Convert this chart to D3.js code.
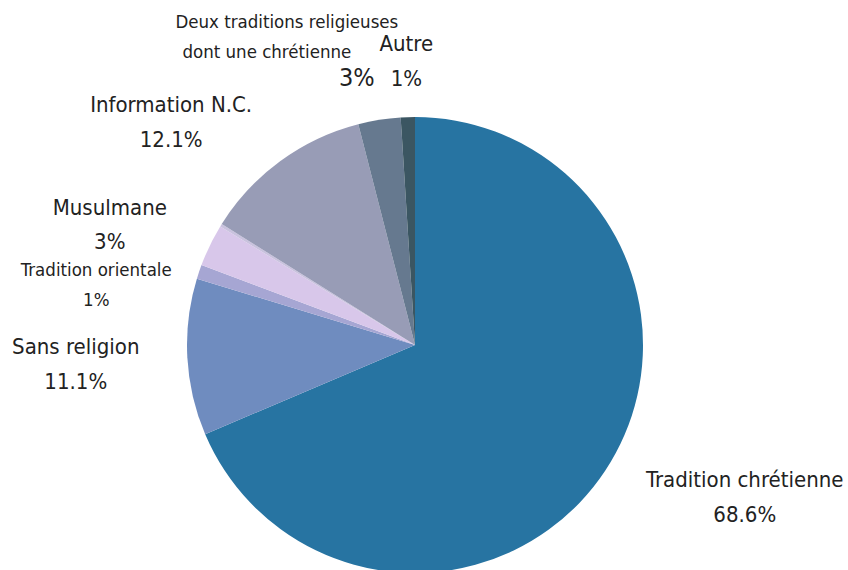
<!DOCTYPE html>
<html>
<head>
<meta charset="utf-8">
<script src="https://cdn.jsdelivr.net/npm/d3@7"></script>
<style>
  body { margin: 0; background: #fff; }
  svg { display: block; }
  text { font-family: "Liberation Sans Narrow", "DejaVu Sans Condensed", sans-serif; fill: #222; }
</style>
</head>
<body>
<svg></svg>
<script>
// Données (en %)
const categories = ["Tradition chrétienne", "Sans religion", "Tradition orientale", "Musulmane", "", "Information N.C.", "Deux traditions religieuses dont une chrétienne", "Autre"];
const values = [68.6, 11.1, 1, 3, 0.2, 12.1, 3, 1];
const valueLabels = ["68.6%", "11.1%", "1%", "3%", "", "12.1%", "3%", "1%"];
const colors = ["#2774a2", "#6f8cbf", "#a6a6d3", "#d8c7ea", "#c9c2de", "#989cb6", "#66798f", "#3b5662"];

const width = 848, height = 570;
const cx = 415, cy = 345, radius = 228;

const svg = d3.select("svg").attr("width", width).attr("height", height);
const g = svg.append("g").attr("transform", "translate(" + cx + "," + cy + ")");

const pie = d3.pie().sort(null).value(d => d);
const arcs = pie(values);
const arc = d3.arc().innerRadius(0).outerRadius(radius);

g.selectAll("path")
  .data(arcs)
  .enter().append("path")
  .attr("d", arc)
  .attr("fill", (d, i) => colors[i]);

// Labels : un peu à l'extérieur du disque, quelques ajustements manuels
const labelR = radius * 1.21;
const nudge = { 1: [0, 4], 2: [18, 28], 6: [0, 0], 7: [0, -8] };
const small = { 2: 18.5, 6: 18.5 };

arcs.forEach((d, i) => {
  if (!categories[i]) return;
  const a = (d.startAngle + d.endAngle) / 2;
  let x = Math.sin(a) * labelR, y = -Math.cos(a) * labelR;
  const [nx, ny] = nudge[i] || [0, 0];
  x += nx; y += ny;
  const fs = small[i] || 22;
  const lg = g.append("g");

  if (i === 6) {
    // libellé long sur deux lignes, valeur en dessous à droite
    lg.append("text").attr("x", x - 85).attr("y", y - 45).attr("text-anchor", "middle")
      .style("font-size", fs + "px").text("Deux traditions religieuses");
    lg.append("text").attr("x", x - 105).attr("y", y - 15).attr("text-anchor", "middle")
      .style("font-size", fs + "px").text("dont une chrétienne");
    lg.append("text").attr("x", x - 15).attr("y", y + 13).attr("text-anchor", "middle")
      .style("font-size", "25px").text(valueLabels[i]);
    return;
  }

  const t = lg.append("text").attr("text-anchor", "middle").style("font-size", fs + "px");
  t.append("tspan").attr("x", 0).attr("dy", 0).text(categories[i]);
  t.append("tspan").attr("x", 0).attr("dy", fs * 1.58).text(valueLabels[i]);

  const bb = t.node().getBBox();
  const s = Math.sin(a);
  let tx;
  if (Math.abs(s) < 0.2) tx = x;
  else if (s > 0) tx = x - bb.x;
  else tx = x - (bb.x + bb.width);
  const ty = y - (bb.y + bb.height / 2);
  t.attr("transform", "translate(" + tx + "," + ty + ")");
});
</script>
</body>
</html>
